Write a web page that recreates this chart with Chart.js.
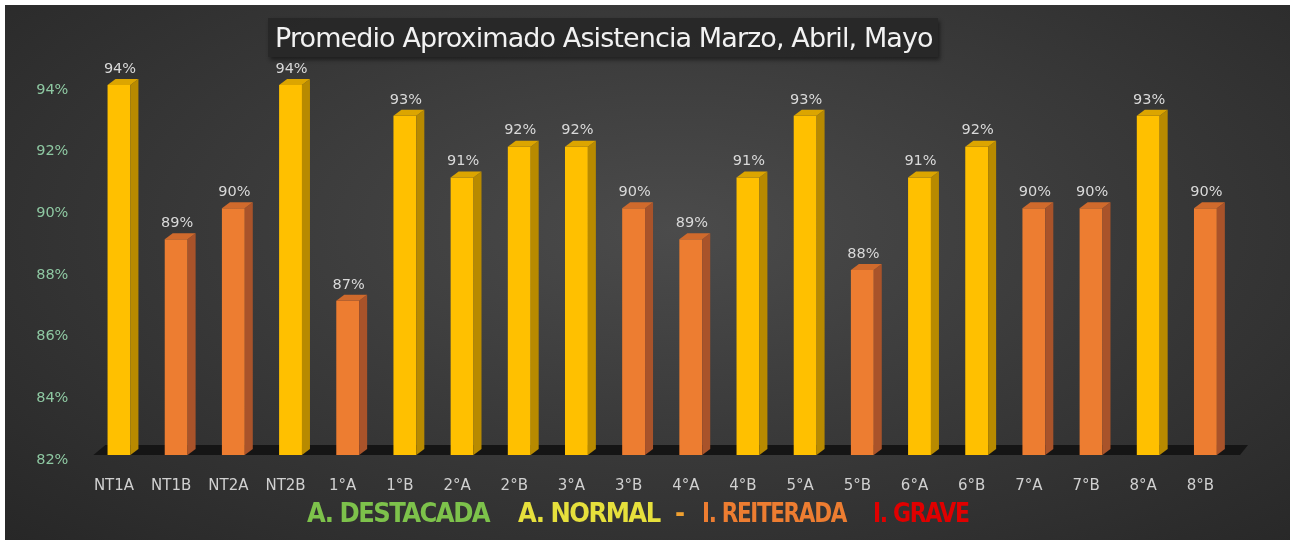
<!DOCTYPE html>
<html>
<head>
<meta charset="utf-8">
<script src="https://cdn.jsdelivr.net/npm/chart.js@4/dist/chart.umd.min.js"></script>
<style>
  html, body { margin: 0; padding: 0; background: #fff; }
  #wrap {
    position: absolute; left: 5px; top: 5px; width: 1285px; height: 535px;
    background: radial-gradient(ellipse 75% 85% at 52% 42%, #4b4b4b 0%, #3a3a3a 45%, #262626 100%);
    overflow: hidden;
  }
  #title {
    position: absolute; left: 263px; top: 13px; width: 670px; height: 39px;
    background: rgba(38,38,38,0.85); box-shadow: 2px 3px 4px rgba(0,0,0,0.45);
    color: #f2f2f2; font: 27px "DejaVu Sans", sans-serif; line-height: 39px;
    padding-left: 7px; box-sizing: border-box; white-space: nowrap; letter-spacing: -0.9px;
  }
  .leg {
    position: absolute; top: 492px; font: bold 27px "DejaVu Sans Condensed", "DejaVu Sans", sans-serif;
    font-stretch: condensed; white-space: nowrap; letter-spacing: -1.5px; transform-origin: left center;
  }
</style>
</head>
<body>
<div id="wrap">
  <canvas id="c" width="1285" height="535"></canvas>
  <div id="title">Promedio Aproximado Asistencia Marzo, Abril, Mayo</div>
  <span class="leg" style="left:302px;color:#7dc24b">A. DESTACADA</span>
  <span class="leg" style="left:513px;color:#e6e03c">A. NORMAL</span>
  <span class="leg" style="left:670px;color:#f0a030">-</span>
  <span class="leg" style="left:697px;color:#ed7d31;transform:scaleX(0.885)">I. REITERADA</span>
  <span class="leg" style="left:868px;color:#e00000;transform:scaleX(0.905)">I. GRAVE</span>
</div>
<script>
// data
const cursos = ['NT1A','NT1B','NT2A','NT2B','1°A','1°B','2°A','2°B','3°A','3°B',
                '4°A','4°B','5°A','5°B','6°A','6°B','7°A','7°B','8°A','8°B'];
const asistencia = [94,89,90,94,87,93,91,92,92,90,89,91,93,88,91,92,90,90,93,90];
const yTicks = [82,84,86,88,90,92,94];

// colours: yellow = normal (>=91), orange = reiterada
const isNormal = v => v >= 91;
const front = asistencia.map(v => isNormal(v) ? '#ffc000' : '#ed7d31');
const side  = asistencia.map(v => isNormal(v) ? '#b88a00' : '#a9532a');
const topc  = asistencia.map(v => isNormal(v) ? '#dca500' : '#d06a2c');

const DX = 8, DY = 6;

const fake3d = {
  id: 'fake3d',
  beforeDatasetsDraw(chart) {
    const ctx = chart.ctx, a = chart.chartArea;
    ctx.save();
    ctx.fillStyle = '#151515';
    ctx.beginPath();
    ctx.moveTo(a.left + 3, a.bottom);
    ctx.lineTo(a.left + 15, a.bottom - 10);
    ctx.lineTo(a.right + 14, a.bottom - 10);
    ctx.lineTo(a.right + 6, a.bottom);
    ctx.closePath();
    ctx.fill();
    ctx.restore();
  },
  afterDatasetsDraw(chart) {
    const ctx = chart.ctx, a = chart.chartArea;
    const meta = chart.getDatasetMeta(0);
    ctx.save();
    meta.data.forEach((bar, i) => {
      const p = bar.getProps(['x','y','base','width'], true);
      const l = p.x - p.width / 2, r = p.x + p.width / 2;
      const b = Math.min(p.base, a.bottom);
      ctx.fillStyle = side[i];
      ctx.beginPath();
      ctx.moveTo(r, p.y); ctx.lineTo(r + DX, p.y - DY);
      ctx.lineTo(r + DX, b - DY); ctx.lineTo(r, b);
      ctx.closePath(); ctx.fill();
      ctx.fillStyle = topc[i];
      ctx.beginPath();
      ctx.moveTo(l, p.y); ctx.lineTo(l + DX, p.y - DY);
      ctx.lineTo(r + DX, p.y - DY); ctx.lineTo(r, p.y);
      ctx.closePath(); ctx.fill();
      // value label
      ctx.fillStyle = '#d9d9d9';
      ctx.font = '14.5px "DejaVu Sans", sans-serif';
      ctx.textAlign = 'center';
      ctx.textBaseline = 'middle';
      ctx.fillText(asistencia[i] + '%', p.x + 1, p.y - 16);
    });
    ctx.restore();
  }
};

new Chart(document.getElementById('c'), {
  type: 'bar',
  data: {
    labels: cursos,
    datasets: [{
      data: asistencia,
      backgroundColor: front,
      borderWidth: 0,
      barPercentage: 0.4,
      categoryPercentage: 1
    }]
  },
  options: {
    responsive: false,
    animation: false,
    layout: { padding: { top: 29.5, right: 56, left: 0, bottom: 0 } },
    plugins: { legend: { display: false }, tooltip: { enabled: false } },
    scales: {
      x: {
        grid: { display: false, drawTicks: false },
        border: { display: false },
        ticks: { color: '#d0d0d0', font: { size: 15, family: '"DejaVu Sans", sans-serif' }, padding: 22, labelOffset: -5 },
        afterFit: s => { s.height = 85; }
      },
      y: {
        min: 82, max: 95.6,
        grid: { display: false, drawTicks: false },
        border: { display: false },
        afterBuildTicks: s => { s.ticks = yTicks.map(v => ({ value: v })); },
        ticks: {
          color: '#8ec8a2', padding: 22, labelOffset: 5,
          font: { size: 14.5, family: '"DejaVu Sans", sans-serif' },
          callback: v => v + '%'
        },
        afterFit: s => { s.width = 85.4; }
      }
    }
  },
  plugins: [fake3d]
});
</script>
</body>
</html>
